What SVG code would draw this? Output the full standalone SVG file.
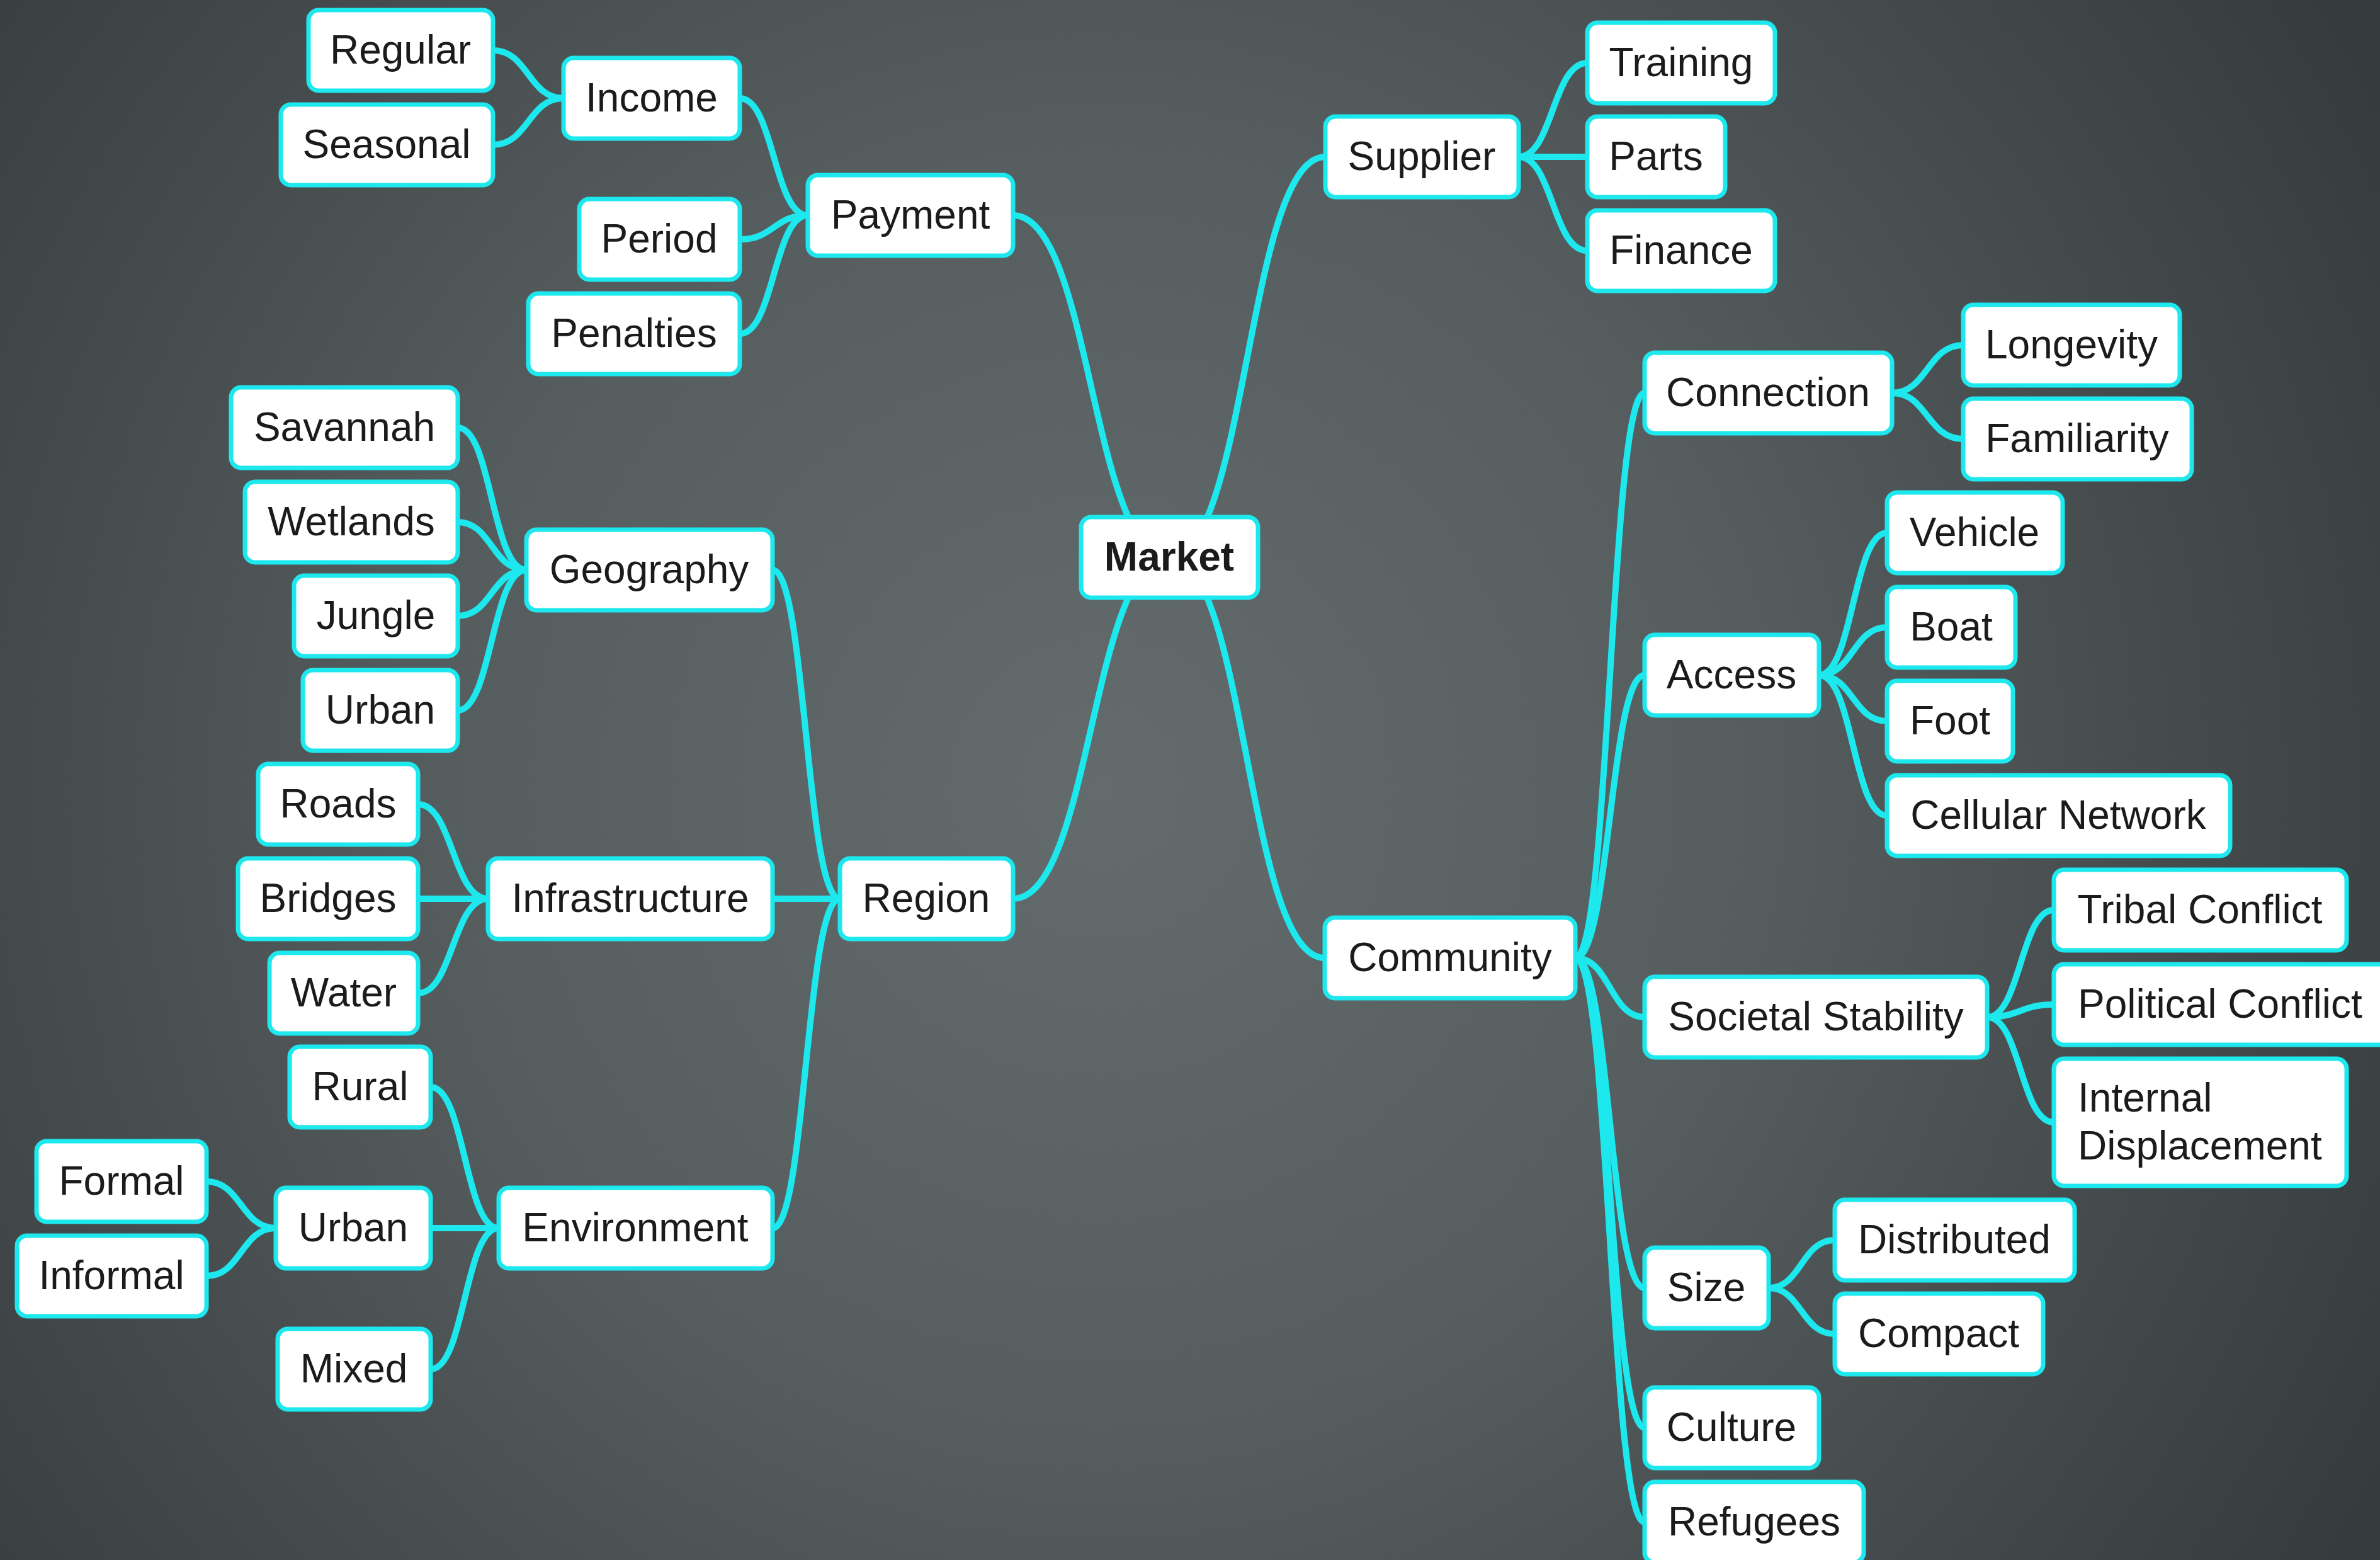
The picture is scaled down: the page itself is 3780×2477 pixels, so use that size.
<svg xmlns="http://www.w3.org/2000/svg" width="3780" height="2477" viewBox="0 0 3780 2477">
  <defs>
    <radialGradient id="bg" gradientUnits="userSpaceOnUse" cx="1750" cy="1250" r="2300">
      <stop offset="0" stop-color="#636b6d"/>
      <stop offset="0.45" stop-color="#565d5f"/>
      <stop offset="1" stop-color="#363b3d"/>
    </radialGradient>
  </defs>
  <style>
    .link { fill: none; stroke: #1ce8ee; stroke-width: 10; stroke-linecap: round; }
    .node rect { fill: #ffffff; stroke: #1ce8ee; stroke-width: 7; }
    .node text { font-family: "Liberation Sans", Arial, sans-serif; font-size: 64px; fill: #1b1b1b; text-anchor: middle; }
    .node.root text { font-weight: bold; }
    .node text.left { text-anchor: start; }
  </style>

  <rect x="0" y="0" width="3780" height="2477" fill="url(#bg)"/>

  <!-- connectors: horizontal-tangent S-curves from parent to child -->
  <g id="connectors">
    <!-- Market -->
    <path class="link" d="M1857 885 C1733 885 1733 342 1609 342"/>
    <path class="link" d="M1857 885 C1733 885 1733 1427 1609 1427"/>
    <path class="link" d="M1857 885 C1981 885 1981 249 2105 249"/>
    <path class="link" d="M1857 885 C1980 885 1980 1521 2104 1521"/>
    <!-- Payment -->
    <path class="link" d="M1283 342 C1229 342 1229 156 1175 156"/>
    <path class="link" d="M1283 342 C1229 342 1229 380 1175 380"/>
    <path class="link" d="M1283 342 C1229 342 1229 530 1175 530"/>
    <!-- Income -->
    <path class="link" d="M895 156 C839 156 839 80 783 80"/>
    <path class="link" d="M895 156 C839 156 839 230 783 230"/>
    <!-- Region -->
    <path class="link" d="M1334 1427 C1280 1427 1280 905 1227 905"/>
    <path class="link" d="M1334 1427 C1280 1427 1280 1427 1227 1427"/>
    <path class="link" d="M1334 1427 C1280 1427 1280 1950 1227 1950"/>
    <!-- Geography -->
    <path class="link" d="M836 905 C781 905 781 679 727 679"/>
    <path class="link" d="M836 905 C781 905 781 829 727 829"/>
    <path class="link" d="M836 905 C781 905 781 978 727 978"/>
    <path class="link" d="M836 905 C781 905 781 1128 727 1128"/>
    <!-- Infrastructure -->
    <path class="link" d="M775 1427 C719 1427 719 1277 664 1277"/>
    <path class="link" d="M775 1427 C719 1427 719 1427 664 1427"/>
    <path class="link" d="M775 1427 C719 1427 719 1577 664 1577"/>
    <!-- Environment -->
    <path class="link" d="M792 1950 C738 1950 738 1726 684 1726"/>
    <path class="link" d="M792 1950 C738 1950 738 1950 684 1950"/>
    <path class="link" d="M792 1950 C738 1950 738 2174 684 2174"/>
    <!-- Urban (environment) -->
    <path class="link" d="M438 1950 C383 1950 383 1876 328 1876"/>
    <path class="link" d="M438 1950 C383 1950 383 2026 328 2026"/>
    <!-- Supplier -->
    <path class="link" d="M2412 249 C2466 249 2466 100 2521 100"/>
    <path class="link" d="M2412 249 C2466 249 2466 249 2521 249"/>
    <path class="link" d="M2412 249 C2466 249 2466 398 2521 398"/>
    <!-- Community -->
    <path class="link" d="M2502 1521 C2557 1521 2557 624 2612 624"/>
    <path class="link" d="M2502 1521 C2557 1521 2557 1072 2612 1072"/>
    <path class="link" d="M2502 1521 C2557 1521 2557 1615 2612 1615"/>
    <path class="link" d="M2502 1521 C2557 1521 2557 2045 2612 2045"/>
    <path class="link" d="M2502 1521 C2557 1521 2557 2267 2612 2267"/>
    <path class="link" d="M2502 1521 C2557 1521 2557 2417 2612 2417"/>
    <!-- Connection -->
    <path class="link" d="M3005 624 C3061 624 3061 548 3118 548"/>
    <path class="link" d="M3005 624 C3061 624 3061 697 3118 697"/>
    <!-- Access -->
    <path class="link" d="M2889 1072 C2943 1072 2943 846 2997 846"/>
    <path class="link" d="M2889 1072 C2943 1072 2943 996 2997 996"/>
    <path class="link" d="M2889 1072 C2943 1072 2943 1145 2997 1145"/>
    <path class="link" d="M2889 1072 C2943 1072 2943 1295 2997 1295"/>
    <!-- Societal Stability -->
    <path class="link" d="M3156 1615 C3209 1615 3209 1445 3262 1445"/>
    <path class="link" d="M3156 1615 C3209 1615 3209 1595 3262 1595"/>
    <path class="link" d="M3156 1615 C3209 1615 3209 1782 3262 1782"/>
    <!-- Size -->
    <path class="link" d="M2809 2045 C2861 2045 2861 1969 2914 1969"/>
    <path class="link" d="M2809 2045 C2861 2045 2861 2118 2914 2118"/>
  </g>

  <!-- root -->
  <g id="n-market" class="node root"><rect x="1717" y="821" width="281" height="128" rx="16"/><text x="1857" y="906">Market</text></g>

  <!-- Payment branch -->
  <g id="n-payment" class="node"><rect x="1283" y="278" width="326" height="128" rx="16"/><text x="1446" y="363">Payment</text></g>
  <g id="n-income" class="node"><rect x="895" y="92" width="280" height="128" rx="16"/><text x="1035" y="177">Income</text></g>
  <g id="n-regular" class="node"><rect x="490" y="16" width="293" height="128" rx="16"/><text x="636" y="101">Regular</text></g>
  <g id="n-seasonal" class="node"><rect x="446" y="166" width="337" height="128" rx="16"/><text x="614" y="251">Seasonal</text></g>
  <g id="n-period" class="node"><rect x="920" y="316" width="255" height="128" rx="16"/><text x="1047" y="401">Period</text></g>
  <g id="n-penalties" class="node"><rect x="839" y="466" width="336" height="128" rx="16"/><text x="1007" y="551">Penalties</text></g>

  <!-- Region branch -->
  <g id="n-region" class="node"><rect x="1334" y="1363" width="275" height="128" rx="16"/><text x="1471" y="1448">Region</text></g>
  <g id="n-geography" class="node"><rect x="836" y="841" width="391" height="128" rx="16"/><text x="1031" y="926">Geography</text></g>
  <g id="n-savannah" class="node"><rect x="367" y="615" width="360" height="128" rx="16"/><text x="547" y="700">Savannah</text></g>
  <g id="n-wetlands" class="node"><rect x="389" y="765" width="338" height="128" rx="16"/><text x="558" y="850">Wetlands</text></g>
  <g id="n-jungle" class="node"><rect x="467" y="914" width="260" height="128" rx="16"/><text x="597" y="999">Jungle</text></g>
  <g id="n-urban-geo" class="node"><rect x="481" y="1064" width="246" height="128" rx="16"/><text x="604" y="1149">Urban</text></g>
  <g id="n-infrastructure" class="node"><rect x="775" y="1363" width="452" height="128" rx="16"/><text x="1001" y="1448">Infrastructure</text></g>
  <g id="n-roads" class="node"><rect x="410" y="1213" width="254" height="128" rx="16"/><text x="537" y="1298">Roads</text></g>
  <g id="n-bridges" class="node"><rect x="378" y="1363" width="286" height="128" rx="16"/><text x="521" y="1448">Bridges</text></g>
  <g id="n-water" class="node"><rect x="428" y="1513" width="236" height="128" rx="16"/><text x="546" y="1598">Water</text></g>
  <g id="n-environment" class="node"><rect x="792" y="1886" width="435" height="128" rx="16"/><text x="1009" y="1971">Environment</text></g>
  <g id="n-rural" class="node"><rect x="460" y="1662" width="224" height="128" rx="16"/><text x="572" y="1747">Rural</text></g>
  <g id="n-urban-env" class="node"><rect x="438" y="1886" width="246" height="128" rx="16"/><text x="561" y="1971">Urban</text></g>
  <g id="n-formal" class="node"><rect x="58" y="1812" width="270" height="128" rx="16"/><text x="193" y="1897">Formal</text></g>
  <g id="n-informal" class="node"><rect x="27" y="1962" width="301" height="128" rx="16"/><text x="177" y="2047">Informal</text></g>
  <g id="n-mixed" class="node"><rect x="441" y="2110" width="243" height="128" rx="16"/><text x="562" y="2195">Mixed</text></g>

  <!-- Supplier branch -->
  <g id="n-supplier" class="node"><rect x="2105" y="185" width="307" height="128" rx="16"/><text x="2258" y="270">Supplier</text></g>
  <g id="n-training" class="node"><rect x="2521" y="36" width="298" height="128" rx="16"/><text x="2670" y="121">Training</text></g>
  <g id="n-parts" class="node"><rect x="2521" y="185" width="219" height="128" rx="16"/><text x="2630" y="270">Parts</text></g>
  <g id="n-finance" class="node"><rect x="2521" y="334" width="298" height="128" rx="16"/><text x="2670" y="419">Finance</text></g>

  <!-- Community branch -->
  <g id="n-community" class="node"><rect x="2104" y="1457" width="398" height="128" rx="16"/><text x="2303" y="1542">Community</text></g>
  <g id="n-connection" class="node"><rect x="2612" y="560" width="393" height="128" rx="16"/><text x="2808" y="645">Connection</text></g>
  <g id="n-longevity" class="node"><rect x="3118" y="484" width="344" height="128" rx="16"/><text x="3290" y="569">Longevity</text></g>
  <g id="n-familiarity" class="node"><rect x="3118" y="633" width="363" height="128" rx="16"/><text x="3299" y="718">Familiarity</text></g>
  <g id="n-access" class="node"><rect x="2612" y="1008" width="277" height="128" rx="16"/><text x="2750" y="1093">Access</text></g>
  <g id="n-vehicle" class="node"><rect x="2997" y="782" width="279" height="128" rx="16"/><text x="3136" y="867">Vehicle</text></g>
  <g id="n-boat" class="node"><rect x="2997" y="932" width="204" height="128" rx="16"/><text x="3099" y="1017">Boat</text></g>
  <g id="n-foot" class="node"><rect x="2997" y="1081" width="200" height="128" rx="16"/><text x="3097" y="1166">Foot</text></g>
  <g id="n-cellular" class="node"><rect x="2997" y="1231" width="545" height="128" rx="16"/><text x="3269" y="1316">Cellular Network</text></g>
  <g id="n-societal" class="node"><rect x="2612" y="1551" width="544" height="128" rx="16"/><text x="2884" y="1636">Societal Stability</text></g>
  <g id="n-tribal" class="node"><rect x="3262" y="1381" width="465" height="128" rx="16"/><text x="3494" y="1466">Tribal Conflict</text></g>
  <g id="n-political" class="node"><rect x="3262" y="1531" width="560" height="128" rx="16"/><text class="left" x="3300" y="1616">Political Conflict</text></g>
  <g id="n-internal" class="node"><rect x="3262" y="1681" width="465" height="202" rx="16"/><text class="left" x="3300" y="1765">Internal</text><text class="left" x="3300" y="1841">Displacement</text></g>
  <g id="n-size" class="node"><rect x="2612" y="1981" width="197" height="128" rx="16"/><text x="2710" y="2066">Size</text></g>
  <g id="n-distributed" class="node"><rect x="2914" y="1905" width="381" height="128" rx="16"/><text x="3104" y="1990">Distributed</text></g>
  <g id="n-compact" class="node"><rect x="2914" y="2054" width="331" height="128" rx="16"/><text x="3079" y="2139">Compact</text></g>
  <g id="n-culture" class="node"><rect x="2612" y="2203" width="277" height="128" rx="16"/><text x="2750" y="2288">Culture</text></g>
  <g id="n-refugees" class="node"><rect x="2612" y="2353" width="348" height="128" rx="16"/><text x="2786" y="2438">Refugees</text></g>
</svg>
